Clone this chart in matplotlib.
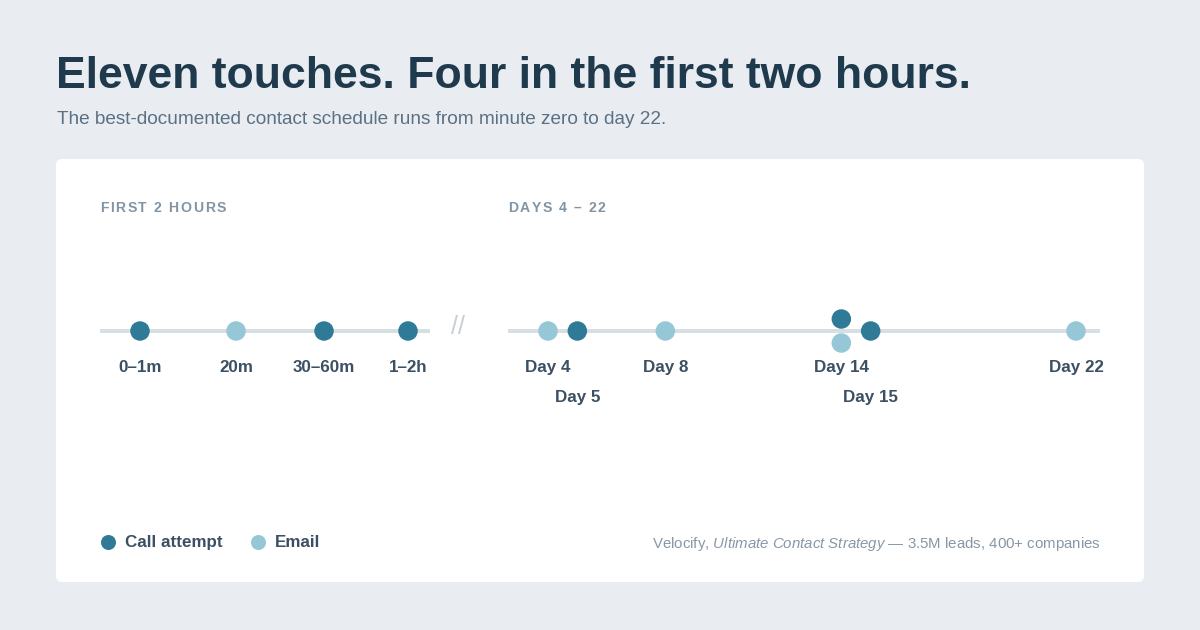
import numpy as np
import matplotlib.pyplot as plt
from matplotlib.patches import FancyBboxPatch

plt.rcParams['font.family'] = ['Liberation Sans', 'DejaVu Sans']
plt.rcParams['mathtext.fontset'] = 'custom'
plt.rcParams['mathtext.rm'] = 'Liberation Sans'
plt.rcParams['mathtext.it'] = 'Liberation Sans:italic'

# ---- data ----
early_labels = ['0–1m', '20m', '30–60m', '1–2h']
early_kind = ['call', 'email', 'call', 'call']
early_pos = [0, 1.075, 2.06, 3]   # spacing along the first-two-hours strip

late_days = [4, 5, 8, 14, 14, 15, 22]
late_kind = ['email', 'call', 'email', 'call', 'email', 'call', 'email']

legend_labels = ['Call attempt', 'Email']
title = 'Eleven touches. Four in the first two hours.'
subtitle = 'The best-documented contact schedule runs from minute zero to day 22.'
source = r'Velocify, $\mathit{Ultimate\ Contact\ Strategy}$ — 3.5M leads, 400+ companies'

# ---- style ----
W, H = 1200, 630
BG = '#e9edf1'
DARK = '#2f7b97'
LIGHT = '#95c7d6'
LINE = '#d5dfe4'
INK = '#1f3a4c'
LABEL = '#3b5063'
MUTED = '#8797a6'
colors = {'call': DARK, 'email': LIGHT}


def pt(px):
    return px * 0.72


fig = plt.figure(figsize=(W / 100, H / 100), dpi=100, facecolor=BG)

# full-figure pixel axes for the frame and text
bg = fig.add_axes([0, 0, 1, 1], zorder=0)
bg.set_xlim(0, W)
bg.set_ylim(H, 0)
bg.axis('off')
bg.set_facecolor(BG)

card = FancyBboxPatch((56, 159), 1088, 423, boxstyle='round,pad=0,rounding_size=6',
                      facecolor='white', edgecolor='none')
bg.add_patch(card)

bg.text(56, 88, title, fontsize=pt(44.5), fontweight='bold', color=INK, va='baseline')
bg.text(57, 124, subtitle, fontsize=pt(19), color='#5b7083', va='baseline')


def spaced(x, y, s, px, color, gap):
    r = fig.canvas.get_renderer()
    for ch in s:
        if ch == ' ':
            x += px * 0.278 + gap
            continue
        t = bg.text(x, y, ch, fontsize=pt(px), fontweight='bold', color=color, va='baseline')
        x += t.get_window_extent(r).width + gap


spaced(100, 212, 'FIRST 2 HOURS', 14, '#8295a5', 1.6)
spaced(508, 212, 'DAYS 4 – 22', 14, '#8295a5', 1.6)

bg.text(458, 327, '//', fontsize=pt(25), color='#c6ced7', ha='center', va='center')

# legend
lx = 108
for lab, kind in zip(legend_labels, ['call', 'email']):
    bg.scatter([lx], [542], s=(pt(15)) ** 2, color=colors[kind], linewidths=0)
    bg.text(lx + 17, 542.5, lab, fontsize=pt(17), fontweight='bold', color=LABEL, va='center')
    lx += 150

bg.text(1101, 544, source, fontsize=pt(15), color=MUTED, ha='right', va='center')


def timeline(x0, x1, lim):
    # axes in pixel geometry; y units are pixels relative to the line
    top, bottom = 290, 420
    ax = fig.add_axes([x0 / W, 1 - bottom / H, (x1 - x0) / W, (bottom - top) / H], zorder=1)
    ax.set_xlim(*lim)
    ax.set_ylim(-(bottom - 331), 331 - top)
    ax.axis('off')
    ax.patch.set_alpha(0)
    ax.axhline(0, color=LINE, lw=pt(4), zorder=1, solid_capstyle='butt')
    return ax


dot = pt(19.5) ** 2

# first two hours
ax1 = timeline(100, 430, (-40 / 89.33, 3 + 22 / 89.33))
ax1.scatter(early_pos, np.zeros(len(early_pos)), s=dot, c=[colors[k] for k in early_kind],
            linewidths=0, zorder=3)
for x, lab in zip(early_pos, early_labels):
    ax1.text(x, -37, lab, fontsize=pt(17), fontweight='bold', color=LABEL,
             ha='center', va='center')

# days 4 - 22
ax2 = timeline(508, 1100, (4 - 40 / 29.33, 22 + 24 / 29.33))
days = np.array(late_days)
offs = np.zeros(len(days))
for d in np.unique(days):
    idx = np.where(days == d)[0]
    if len(idx) > 1:
        offs[idx] = np.linspace(12, -12, len(idx))
ax2.scatter(days, offs, s=dot, c=[colors[k] for k in late_kind], linewidths=0, zorder=3)

prev = None
for d in np.unique(days):
    row = 1 if (prev is not None and d - prev < 2) else 0
    ax2.text(d, -37 - 30 * row, f'Day {d}', fontsize=pt(17), fontweight='bold',
             color=LABEL, ha='center', va='center')
    prev = d

fig.savefig('out.png', dpi=100, facecolor=BG)
